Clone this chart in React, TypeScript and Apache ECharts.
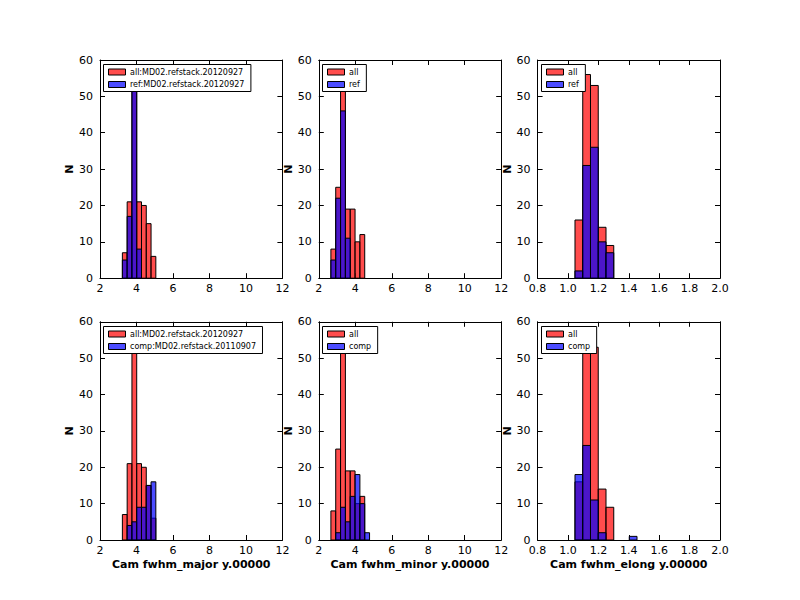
import React, { useEffect, useRef } from "react";
import * as echarts from "echarts";

// bin edges (one more edge than counts)
const majorEdges = [3.227, 3.489, 3.751, 4.013, 4.275, 4.537, 4.799, 5.061];
const majorAll = [7, 21, 58, 21, 20, 15, 6];
const majorRef = [5, 17, 56, 8];
const majorComp = [0, 4, 5, 9, 9, 15, 16];

const minorEdges = [2.663, 2.928, 3.193, 3.458, 3.723, 3.988, 4.253, 4.518, 4.783];
const minorAll = [8, 25, 55, 19, 19, 10, 12];
const minorRef = [5, 22, 46, 11];
const minorComp = [0, 2, 9, 5, 12, 18, 10, 2];

const elongEdges = [1.046, 1.097, 1.148, 1.199, 1.25, 1.301, 1.352, 1.403, 1.454];
const elongAll = [16, 56, 53, 14, 9];
const elongRef = [2, 31, 36, 10, 7];
const elongComp = [18, 26, 11, 2, 0, 0, 0, 1];

const yTicks = [0, 60, 10];
const sizeTicks = [2, 12, 2];
const elongTicks = [0.8, 2.0, 0.2];

const RED = "rgba(255,0,0,0.7)";
const BLUE = "rgba(0,0,255,0.7)";
const FONT = "DejaVu Sans";

const bins = (edges: number[], counts: number[]) =>
    counts
        .map((c, i) => [edges[i], edges[i + 1], c])
        .filter((d) => d[2] > 0);

const panels = [
    { edges: majorEdges, all: majorAll, other: majorRef, allName: "all:MD02.refstack.20120927", otherName: "ref:MD02.refstack.20120927", ticks: sizeTicks, xName: "" },
    { edges: minorEdges, all: minorAll, other: minorRef, allName: "all", otherName: "ref", ticks: sizeTicks, xName: "" },
    { edges: elongEdges, all: elongAll, other: elongRef, allName: "all", otherName: "ref", ticks: elongTicks, xName: "" },
    { edges: majorEdges, all: majorAll, other: majorComp, allName: "all:MD02.refstack.20120927", otherName: "comp:MD02.refstack.20110907", ticks: sizeTicks, xName: "Cam fwhm_major y.00000" },
    { edges: minorEdges, all: minorAll, other: minorComp, allName: "all", otherName: "comp", ticks: sizeTicks, xName: "Cam fwhm_minor y.00000" },
    { edges: elongEdges, all: elongAll, other: elongComp, allName: "all", otherName: "comp", ticks: elongTicks, xName: "Cam fwhm_elong y.00000" },
];

const gridLefts = [100, 318.8, 537.6];
const gridTops = [60, 321.8];
const gridW = 182.4;
const gridH = 218.2;

const App = () => {
    const chartRef = useRef(null);

    useEffect(() => {
        if (!chartRef.current) return;
        document.body.style.margin = "0";
        const chart = echarts.init(chartRef.current, null, { renderer: "svg" });

        const ctx = document.createElement("canvas").getContext("2d");
        const textWidth = (s: string) => {
            if (!ctx) return s.length * 4.5;
            ctx.font = `8px "${FONT}"`;
            return ctx.measureText(s).width;
        };

        const grids: any[] = [];
        const xAxes: any[] = [];
        const yAxes: any[] = [];
        const series: any[] = [];

        panels.forEach((p, i) => {
            const left = gridLefts[i % 3];
            const top = gridTops[Math.floor(i / 3)];
            grids.push({ left, top, width: gridW, height: gridH });

            const isElong = p.ticks === elongTicks;
            const axisCommon = {
                gridIndex: i,
                type: "value",
                axisLine: { onZero: false, lineStyle: { color: "#000", width: 1 } },
                axisTick: { inside: true, length: 5, lineStyle: { color: "#000" } },
                splitLine: { show: false },
            };
            xAxes.push({
                ...axisCommon,
                position: "bottom",
                min: p.ticks[0],
                max: p.ticks[1],
                interval: p.ticks[2],
                axisLabel: {
                    color: "#000",
                    fontSize: 11,
                    fontFamily: FONT,
                    margin: 5,
                    formatter: (v: number) => (isElong ? v.toFixed(1) : String(v)),
                },
                name: p.xName,
                nameLocation: "middle",
                nameGap: 19,
                nameTextStyle: { color: "#000", fontSize: 11, fontWeight: "bold", fontFamily: FONT },
            });
            xAxes.push({
                ...axisCommon,
                position: "top",
                min: p.ticks[0],
                max: p.ticks[1],
                interval: p.ticks[2],
                axisLabel: { show: false },
            });
            yAxes.push({
                ...axisCommon,
                position: "left",
                min: yTicks[0],
                max: yTicks[1],
                interval: yTicks[2],
                axisLabel: { color: "#000", fontSize: 11, fontFamily: FONT, margin: 7 },
                name: "N",
                nameLocation: "middle",
                nameGap: 25,
                nameTextStyle: { color: "#000", fontSize: 11, fontWeight: "bold", fontFamily: FONT },
            });
            yAxes.push({
                ...axisCommon,
                position: "right",
                min: yTicks[0],
                max: yTicks[1],
                interval: yTicks[2],
                axisLabel: { show: false },
            });

            const makeSeries = (name: string, data: number[][], color: string) => ({
                type: "custom",
                name,
                z: 1,
                xAxisIndex: i * 2,
                yAxisIndex: i * 2,
                itemStyle: { color },
                encode: { x: [0, 1], y: 2 },
                data,
                renderItem: (params: any, api: any) => {
                    const p0 = api.coord([api.value(0), api.value(2)]);
                    const p1 = api.coord([api.value(1), 0]);
                    return {
                        type: "rect",
                        shape: { x: p0[0], y: p0[1], width: p1[0] - p0[0], height: p1[1] - p0[1] },
                        style: { fill: color, stroke: "#000", lineWidth: 1 },
                    };
                },
            });
            series.push(makeSeries(p.allName, bins(p.edges, p.all), RED));
            series.push(makeSeries(p.otherName, bins(p.edges, p.other), BLUE));

            // matplotlib-style legend box, anchored at the top-left corner of the axes
            const bw = 27 + Math.max(textWidth(p.allName), textWidth(p.otherName)) + 6;
            const entries = [
                { name: p.allName, color: RED, dy: 7.5 },
                { name: p.otherName, color: BLUE, dy: 20 },
            ];
            series.push({
                type: "custom",
                z: 10,
                silent: true,
                xAxisIndex: i * 2,
                yAxisIndex: i * 2,
                encode: { x: 0, y: 1 },
                data: [[p.ticks[0], yTicks[1]]],
                renderItem: (params: any, api: any) => {
                    const c = api.coord([api.value(0), api.value(1)]);
                    const bx = Math.round(c[0] + 3) + 0.5;
                    const by = Math.round(c[1] + 4) + 0.5;
                    const children: any[] = [
                        {
                            type: "rect",
                            shape: { x: bx, y: by, width: bw, height: 27 },
                            style: { fill: "#fff", stroke: "#000", lineWidth: 1 },
                        },
                    ];
                    entries.forEach((it) => {
                        children.push({
                            type: "rect",
                            shape: { x: bx + 5, y: by + it.dy - 3, width: 17, height: 6 },
                            style: { fill: it.color, stroke: "#000", lineWidth: 1 },
                        });
                        children.push({
                            type: "text",
                            x: bx + 26.5,
                            y: by + it.dy,
                            style: {
                                text: it.name,
                                fill: "#000",
                                fontSize: 8,
                                fontFamily: FONT,
                                verticalAlign: "middle",
                                align: "left",
                            },
                        });
                    });
                    return { type: "group", children };
                },
            });
        });

        const option = {
            animation: false,
            textStyle: { fontFamily: FONT },
            grid: grids,
            xAxis: xAxes,
            yAxis: yAxes,
            series,
        };

        chart.setOption(option);
        return () => chart.dispose();
    }, []);

    return <div ref={chartRef} style={{ width: "800px", height: "600px", background: "#fff" }} />;
};

export default App;
